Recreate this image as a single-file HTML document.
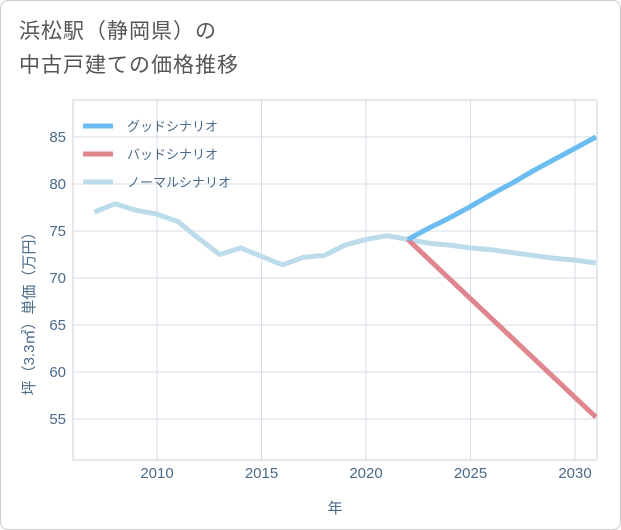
<!DOCTYPE html>
<html><head><meta charset="utf-8"><style>
body{margin:0;background:#fff;font-family:"Liberation Sans","Noto Sans CJK JP",sans-serif;}
#wrap{position:relative;width:619px;height:528px;border:1px solid #ccc;border-radius:8px;overflow:hidden;}
#title{position:absolute;left:18px;top:14px;font-size:21px;line-height:34px;color:#555;letter-spacing:1px;}
</style></head><body>
<div id="wrap">
<div id="title">浜松駅（静岡県）の<br>中古戸建ての価格推移</div>
<svg id="chart" width="621" height="530" style="position:absolute;left:-1px;top:-1px"></svg>
</div>
<script>
const years=[2007,2008,2009,2010,2011,2012,2013,2014,2015,2016,2017,2018,2019,2020,2021,2022,2023,2024,2025,2026,2027,2028,2029,2030,2031];
const normal=[77.0,77.9,77.2,76.8,76.0,74.2,72.5,73.2,72.3,71.4,72.2,72.4,73.5,74.1,74.5,74.1,73.7,73.5,73.2,73.0,72.7,72.4,72.1,71.9,71.6];
const goodYears=[2022,2023,2024,2025,2026,2027,2028,2029,2030,2031];
const good=[74.1,75.3,76.4,77.6,78.9,80.1,81.4,82.6,83.8,85.0];
const bad=[74.1,72.0,69.9,67.8,65.7,63.6,61.5,59.4,57.3,55.2];
const xTicks=[2010,2015,2020,2025,2030];
const yTicks=[55,60,65,70,75,80,85];
const legendLabels=["グッドシナリオ","バッドシナリオ","ノーマルシナリオ"];
const colors=["#6bbcf0","#e0868e","#bcdcec"];
const L=73,R=597,T=100,B=460;
const x=v=>157+(v-2010)*20.9;
const y=v=>137+(85-v)*9.4;
const svg=document.getElementById('chart');
const NS='http://www.w3.org/2000/svg';
function mk(t,a,p){const e=document.createElementNS(NS,t);for(const k in a)e.setAttribute(k,a[k]);(p||svg).appendChild(e);return e;}
const g=mk('g',{});


xTicks.forEach(v=>{mk('line',{x1:x(v),x2:x(v),y1:T,y2:B,stroke:'#d5dde5','stroke-width':1},g);});
yTicks.forEach(v=>{mk('line',{x1:L,x2:R,y1:y(v),y2:y(v),stroke:'#d5dde5','stroke-width':1},g);});
mk('rect',{x:L,y:T,width:R-L,height:B-T,fill:'none',stroke:'#c8d0d8'});
xTicks.forEach(v=>{const t=mk('text',{x:x(v),y:478,'text-anchor':'middle','font-size':15,fill:'#4a6a8a'});t.textContent=v;

});
yTicks.forEach(v=>{const t=mk('text',{x:66,y:y(v)+5,'text-anchor':'end','font-size':15,fill:'#4a6a8a'});t.textContent=v;

});
const xt=mk('text',{x:335,y:513,'text-anchor':'middle','font-size':15,fill:'#4a6a8a'});xt.textContent='年';


const yt=mk('text',{x:0,y:0,'text-anchor':'middle','font-size':15,fill:'#4a6a8a',transform:'translate(34,310) rotate(-90)'});yt.textContent='坪（3.3㎡）単価（万円）';


function line(xs,vs,c,name){const p=mk('polyline',{points:xs.map((v,i)=>x(v)+','+y(vs[i])).join(' '),fill:'none',stroke:c,'stroke-width':5,'stroke-linejoin':'round'});

}
line(years,normal,colors[2],'normal-scenario-line');
line(goodYears,bad,colors[1],'bad-scenario-line');
line(goodYears,good,colors[0],'good-scenario-line');
legendLabels.forEach((s,i)=>{const ly=126+i*28;mk('line',{x1:83,x2:113,y1:ly,y2:ly,stroke:colors[i],'stroke-width':5});
const t=mk('text',{x:127,y:ly+5,'font-size':13,fill:'#4a6a8a'});t.textContent=s;

});
</script>
</body></html>
